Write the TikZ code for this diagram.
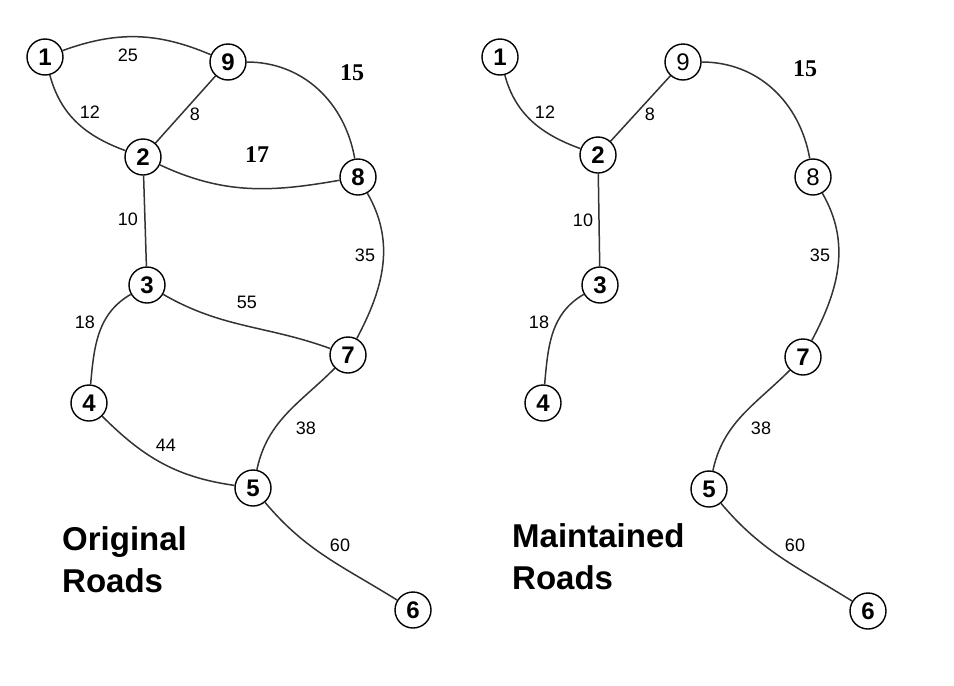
\documentclass[tikz,border=0pt]{standalone}
\usepackage{fontspec}
\setmainfont{Liberation Sans}
\newfontfamily\bigwt{Liberation Serif}
\usepackage{tikz}
\usetikzlibrary{positioning}

\begin{document}
\begin{tikzpicture}[x=1pt, y=1pt,
        town/.style = {circle, draw, line width=1.4pt, minimum size=36pt, inner sep=0pt,
                       font=\fontsize{24}{24}\selectfont\bfseries},
       ttown/.style = {town, font=\fontsize{24}{24}\selectfont},
          wt/.style = {inner sep=0pt, font=\fontsize{18}{18}\selectfont},
         bwt/.style = {inner sep=0pt, font=\fontsize{24}{24}\selectfont\bigwt\bfseries},
       title/.style = {inner sep=0pt, anchor=base west, font=\fontsize{33}{33}\selectfont\bfseries},
        road/.style = {line width=1.5pt, draw=black!80}
                        ]
\useasboundingbox (0,0) rectangle (954,-686);
% original roads
\node (o1) [town] at (45,-57) {1};
\node (o9) [town] at (228,-62) {9};
\node (o2) [town] at (143,-157) {2};
\node (o8) [town] at (358,-177) {8};
\node (o3) [town] at (147,-285) {3};
\node (o7) [town] at (348,-355) {7};
\node (o4) [town] at (89,-403) {4};
\node (o5) [town] at (253,-488) {5};
\node (o6) [town] at (413,-610) {6};
\draw[road] (o1) to[out=20, in=157] (o9);
\draw[road] (o1) to[out=-75, in=160] (o2);
\draw[road] (o9) to (o2);
\draw[road] (o9) to[out=0, in=100] (o8);
\draw[road] (o2) to[out=-25, in=190] (o8);
\draw[road] (o2) to (o3);
\draw[road] (o8) to[out=-60, in=62] (o7);
\draw[road] (o3) to[out=-30, in=160] (o7);
\draw[road] (o3) to[out=210, in=85] (o4);
\draw[road] (o4) to[out=-45, in=172] (o5);
\draw[road] (o7) to[out=225, in=78] (o5);
\draw[road] (o5) to[out=-50, in=148] (o6);
\node (w19) [wt] at (128,-55) {25};
\node (w12) [wt] at (90,-112) {12};
\node (w92) [wt] at (195,-114) {8};
\node (w98) [bwt] at (352,-73) {15};
\node (w28) [bwt] at (257,-155) {17};
\node (w23) [wt] at (128,-219) {10};
\node (w87) [wt] at (365,-255) {35};
\node (w37) [wt] at (247,-302) {55};
\node (w34) [wt] at (85,-322) {18};
\node (w45) [wt] at (166,-445) {44};
\node (w75) [wt] at (306,-428) {38};
\node (w56) [wt] at (340,-545) {60};
\node (orig) [title] at (62,-550) {Original};
\node (origr) [title] at (62,-592) {Roads};
% maintained roads
\node (m1) [town] at (500,-57) {1};
\node (m9) [ttown] at (683,-62) {9};
\node (m2) [town] at (598,-155) {2};
\node (m8) [ttown] at (813,-177) {8};
\node (m3) [town] at (600,-285) {3};
\node (m7) [town] at (803,-357) {7};
\node (m4) [town] at (543,-403) {4};
\node (m5) [town] at (709,-489) {5};
\node (m6) [town] at (868,-611) {6};
\draw[road] (m1) to[out=-75, in=160] (m2);
\draw[road] (m9) to (m2);
\draw[road] (m9) to[out=0, in=100] (m8);
\draw[road] (m2) to (m3);
\draw[road] (m8) to[out=-60, in=62] (m7);
\draw[road] (m3) to[out=210, in=85] (m4);
\draw[road] (m7) to[out=225, in=78] (m5);
\draw[road] (m5) to[out=-50, in=148] (m6);
\node (v12) [wt] at (545,-112) {12};
\node (v92) [wt] at (650,-114) {8};
\node (v98) [bwt] at (805,-69) {15};
\node (v23) [wt] at (583,-220) {10};
\node (v87) [wt] at (820,-255) {35};
\node (v34) [wt] at (539,-322) {18};
\node (v75) [wt] at (761,-428) {38};
\node (v56) [wt] at (795,-545) {60};
\node (main) [title] at (512,-547) {Maintained};
\node (mainr) [title] at (512,-589) {Roads};
\end{tikzpicture}
\end{document}
